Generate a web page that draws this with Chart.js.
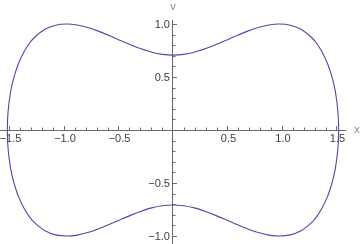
<!DOCTYPE html>
<html>
<head>
<meta charset="utf-8">
<script src="https://cdn.jsdelivr.net/npm/chart.js@4/dist/chart.umd.min.js"></script>
<style>
    html, body { margin: 0; padding: 0; background: #fff; }
    #wrap { width: 360px; height: 244px; position: relative; }
</style>
</head>
<body>
<div id="wrap"><canvas id="phaseChart"></canvas></div>
<script>
// upper branch of the closed curve (left to right)
const upperX = [-1.52, -1.516, -1.506, -1.496, -1.487, -1.467, -1.447, -1.418, -1.369, -1.32, -1.271, -1.174, -1.076, -0.978, -0.88, -0.782, -0.685, -0.587, -0.489, -0.391, -0.293, -0.196, -0.098, 0, 0.098, 0.196, 0.293, 0.391, 0.489, 0.587, 0.685, 0.782, 0.88, 0.978, 1.076, 1.174, 1.271, 1.32, 1.369, 1.418, 1.447, 1.467, 1.487, 1.496, 1.506, 1.516, 1.52];
const upperV = [0, 0.129, 0.244, 0.318, 0.376, 0.468, 0.54, 0.626, 0.734, 0.814, 0.873, 0.95, 0.989, 1.0, 0.991, 0.967, 0.933, 0.892, 0.848, 0.805, 0.766, 0.734, 0.714, 0.707, 0.714, 0.734, 0.766, 0.805, 0.848, 0.892, 0.933, 0.967, 0.991, 1.0, 0.989, 0.95, 0.873, 0.814, 0.734, 0.626, 0.54, 0.468, 0.376, 0.318, 0.244, 0.129, 0];
// lower branch (left to right)
const lowerX = [-1.52, -1.516, -1.506, -1.496, -1.487, -1.467, -1.447, -1.418, -1.369, -1.32, -1.271, -1.174, -1.076, -0.978, -0.88, -0.782, -0.685, -0.587, -0.489, -0.391, -0.293, -0.196, -0.098, 0, 0.098, 0.196, 0.293, 0.391, 0.489, 0.587, 0.685, 0.782, 0.88, 0.978, 1.076, 1.174, 1.271, 1.32, 1.369, 1.418, 1.447, 1.467, 1.487, 1.496, 1.506, 1.516, 1.52];
const lowerV = [0, -0.129, -0.244, -0.318, -0.376, -0.468, -0.54, -0.626, -0.734, -0.814, -0.873, -0.95, -0.989, -1.0, -0.991, -0.967, -0.933, -0.892, -0.848, -0.805, -0.766, -0.734, -0.714, -0.707, -0.714, -0.734, -0.766, -0.805, -0.848, -0.892, -0.933, -0.967, -0.991, -1.0, -0.989, -0.95, -0.873, -0.814, -0.734, -0.626, -0.54, -0.468, -0.376, -0.318, -0.244, -0.129, 0];

const xTickLabels = [-1.5, -1.0, -0.5, 0.5, 1.0, 1.5];
const yTickLabels = [-1.0, -0.5, 0.5, 1.0];
const xAxisName = 'x';
const yAxisName = 'v';

document.addEventListener('DOMContentLoaded', function() {
    const ctx = document.getElementById('phaseChart').getContext('2d');
    const lineColor = '#4b4ba6';
    const axisColor = '#6a6a6a';

    function toPoints(xs, ys) {
        return xs.map((x, i) => ({ x: x, y: ys[i] }));
    }

    function fmt(v) {
        return (v < 0 ? '\u2212' : '') + Math.abs(v).toFixed(1);
    }

    // ticks point into the plot (up from x axis, right of y axis), labels on the other side
    const axisDecor = {
        id: 'axisDecor',
        afterDraw(chart) {
            const c = chart.ctx;
            const xs = chart.scales.x;
            const ys = chart.scales.y;
            const x0 = xs.getPixelForValue(0);
            const y0 = ys.getPixelForValue(0);
            c.save();
            c.strokeStyle = axisColor;
            c.lineWidth = 1;
            c.beginPath();
            for (let i = -15; i <= 15; i++) {
                if (i === 0) continue;
                const len = (i % 5 === 0) ? 4 : 2.5;
                const px = Math.round(xs.getPixelForValue(i / 10)) + 0.5;
                c.moveTo(px, y0);
                c.lineTo(px, y0 - len);
            }
            for (let i = -10; i <= 10; i++) {
                if (i === 0) continue;
                const len = (i % 5 === 0) ? 4 : 2.5;
                const py = Math.round(ys.getPixelForValue(i / 10)) + 0.5;
                c.moveTo(x0, py);
                c.lineTo(x0 + len, py);
            }
            c.stroke();

            c.fillStyle = '#3c3c3c';
            c.font = '11px "Liberation Sans", Arial, sans-serif';
            c.textAlign = 'center';
            c.textBaseline = 'top';
            xTickLabels.forEach(v => {
                c.fillText(fmt(v), xs.getPixelForValue(v) + 1, y0 + 3);
            });
            c.textAlign = 'right';
            c.textBaseline = 'middle';
            yTickLabels.forEach(v => {
                c.fillText(fmt(v), x0 - 3, ys.getPixelForValue(v) + 0.5);
            });

            c.fillStyle = '#8c8c8c';
            c.textAlign = 'center';
            c.fillText(xAxisName, xs.right + 12, y0);
            c.textBaseline = 'middle';
            c.fillText(yAxisName, x0, ys.top - 13);
            c.restore();
        }
    };

    let chart = new Chart(ctx, {
        type: 'scatter',
        data: {
            datasets: [
                {
                    label: 'upper',
                    data: toPoints(upperX, upperV),
                    showLine: true,
                    borderColor: lineColor,
                    borderWidth: 1.1,
                    pointRadius: 0,
                    tension: 0.3
                },
                {
                    label: 'lower',
                    data: toPoints(lowerX, lowerV),
                    showLine: true,
                    borderColor: lineColor,
                    borderWidth: 1.1,
                    pointRadius: 0,
                    tension: 0.3
                }
            ]
        },
        options: {
            responsive: true,
            maintainAspectRatio: false,
            animation: false,
            layout: {
                padding: { left: 0, right: 15, top: 20, bottom: 0 }
            },
            plugins: {
                legend: { display: false },
                tooltip: { enabled: false }
            },
            scales: {
                x: {
                    type: 'linear',
                    min: -1.587,
                    max: 1.578,
                    position: { y: 0 },
                    grid: { display: false, drawTicks: false },
                    border: { display: true, color: axisColor, width: 1 },
                    ticks: { display: false }
                },
                y: {
                    type: 'linear',
                    min: -1.075,
                    max: 1.038,
                    position: { x: 0 },
                    grid: { display: false, drawTicks: false },
                    border: { display: true, color: axisColor, width: 1 },
                    ticks: { display: false }
                }
            }
        },
        plugins: [axisDecor]
    });
});
</script>
</body>
</html>
